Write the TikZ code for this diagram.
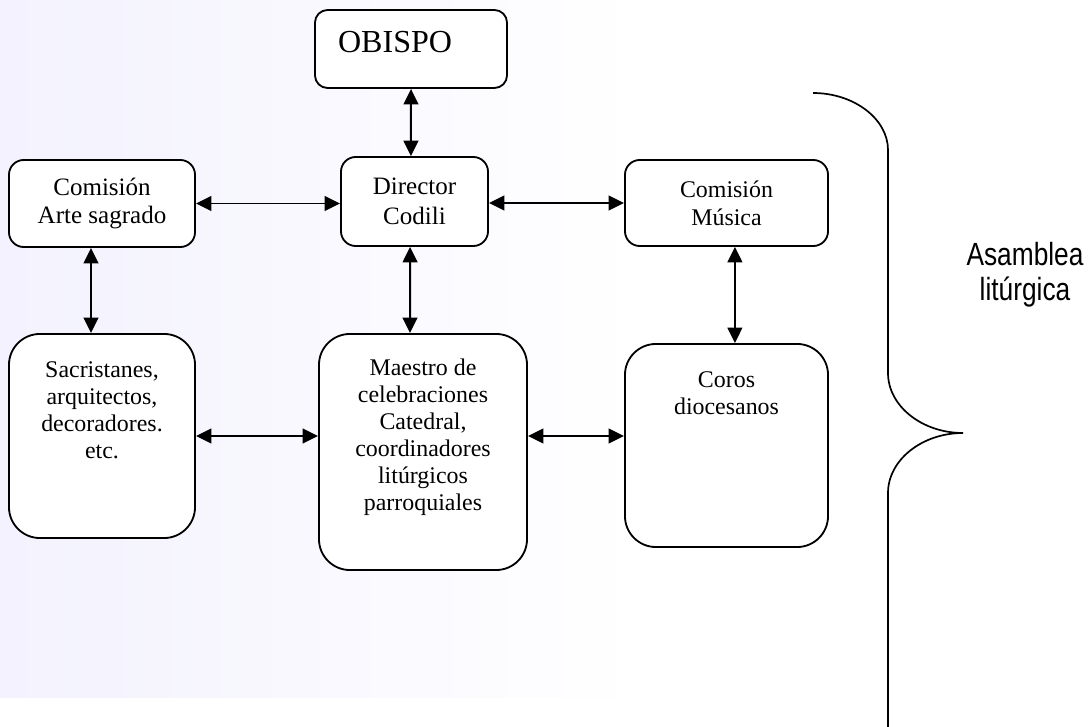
\documentclass[tikz,border=0pt]{standalone}
\usepackage{fontspec}
\setmainfont{Liberation Serif}
\newfontfamily\narrowsans[FakeStretch=0.82]{Liberation Sans}
\usetikzlibrary{arrows.meta}
\definecolor{lavbg}{RGB}{243,242,254}
\newcommand{\topbox}[4]{\parbox[c][#1][t]{#2}{\centering\rule{0pt}{#3}#4}}

\begin{document}
\begin{tikzpicture}[x=0.025cm,y=-0.025cm,>={Triangle[length=11pt,width=10.5pt]},
      box/.style={draw,line width=1.3pt,rounded corners=10.5pt,fill=white,align=center,
        inner sep=0pt,font=\fontsize{17}{20}\selectfont},
      tallbox/.style={box,rounded corners=22pt,font=\fontsize{17}{19.3}\selectfont},
      link/.style={draw,<->,line width=1.4pt}]
      \useasboundingbox (0,0) rectangle (1090,727);
      \shade[left color=lavbg,right color=white] (0,0) rectangle (640,697);

      \node[box,rounded corners=9pt,minimum width=4.8cm,minimum height=1.95cm,
        font=\fontsize{22.8}{26}\selectfont] (obispo) at (411,49)
        {\parbox[c][1.95cm][t]{4.8cm}{\hspace*{16.4pt}\rule{0pt}{29.9pt}OBISPO}};
      \node[box,minimum width=3.675cm,minimum height=2.225cm,
        font=\fontsize{17.8}{21.3}\selectfont] (dir) at (414.5,201.5) {Director\\Codili};
      \node[box,minimum width=4.65cm,minimum height=2.175cm,
        font=\fontsize{17.8}{20.6}\selectfont] (arte) at (102,203.5) {Comisión\\Arte sagrado};
      \node[box,minimum width=5.075cm,minimum height=2.15cm] (mus) at (726.5,203) {Comisión\\Música};

      \node[tallbox] (sac) at (102,436)
        {\topbox{5.1cm}{4.65cm}{30.6pt}{Sacristanes,\\arquitectos,\\decoradores.\\etc.}};
      \node[tallbox] (maes) at (423,452)
        {\topbox{5.9cm}{5.2cm}{29.2pt}{Maestro de\\celebraciones\\Catedral,\\coordinadores\\litúrgicos\\parroquiales}};
      \node[tallbox] (coros) at (726.5,445.5)
        {\topbox{5.075cm}{5.075cm}{30.6pt}{Coros\\diocesanos}};

      \path
      (obispo.south) edge[link] ([xshift=-0.09cm]dir.north)
      (arte.east) edge[link] (arte.east -| dir.west)
      (mus.west -| dir.east) edge[link] (mus.west)
      ([xshift=-0.275cm]arte.south) edge[link] ([xshift=-0.275cm]sac.north)
      ([xshift=-0.11cm]dir.south) edge[link] ([xshift=-0.325cm]maes.north)
      ([xshift=0.21cm]mus.south) edge[link] ([xshift=0.21cm]coros.north)
      (sac.east) edge[link] (sac.east -| maes.west)
      (sac.east -| maes.east) edge[link] (sac.east -| coros.west)
      ;

      % brace round the whole
      \draw[line width=1.2pt] (813,93) .. controls (854,93) and (888,119) .. (888,150)
        -- (888,373) .. controls (888,406) and (922,433) .. (963,433)
        .. controls (922,433) and (888,460) .. (888,493) -- (888,727);
      \node[align=center,font=\narrowsans\fontsize{22.8}{25}\selectfont] (asm) at (1025,275)
        {Asamblea\\litúrgica};
\end{tikzpicture}
\end{document}
